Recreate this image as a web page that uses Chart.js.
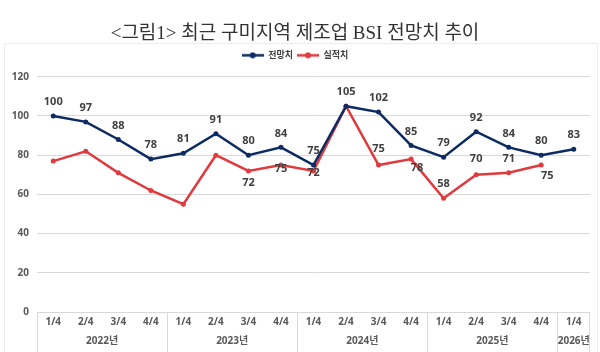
<!DOCTYPE html>
<html>
<head>
<meta charset="utf-8">
<script src="https://cdn.jsdelivr.net/npm/chart.js@4/dist/chart.umd.min.js"></script>
<style>
  body { margin: 0; background: #fff; }
  #wrap { position: relative; width: 600px; height: 352px; }
  #frame { position: absolute; left: 4px; top: 43px; width: 592px; height: 320px;
           border-left: 1px solid #ececec; border-top: 1px solid #ececec; border-right: 1px solid #ececec; }
  canvas { position: absolute; left: 0; top: 0; }
</style>
</head>
<body>
<div id="wrap">
  <div id="frame"></div>
  <canvas id="bsiChart" width="600" height="352"></canvas>
</div>
<script>

// quarters on the x axis, years under each group
const quarters = ['1/4','2/4','3/4','4/4','1/4','2/4','3/4','4/4','1/4','2/4','3/4','4/4','1/4','2/4','3/4','4/4','1/4']
const years = ['2022년','2023년','2024년','2025년','2026년']
const yearSizes = [4, 4, 4, 4, 1]

const forecast = [100, 97, 88, 78, 81, 91, 80, 84, 75, 105, 102, 85, 79, 92, 84, 80, 83]
const actual = [77, 82, 71, 62, 55, 80, 72, 75, 72, 105, 75, 78, 58, 70, 71, 75, null]

const yTicks = [0, 20, 40, 60, 80, 100, 120]

var navy = '#0d2b63'
var red = '#e03a3e'
var labelFont = "'Noto Sans', 'Noto Sans CJK KR', sans-serif"

// label offsets [dx, dy] per point, null = no label
const forecastLabelPos = forecast.map(() => [0, -14])
const actualLabelPos = [null, null, null, null, null, null, [0, 12], [0, 4], [0, 2], null,
                        [0, -16], [6, 9], [0, -14], [0, -16], [0, -14], [6, 11], null]

function legendMark(color) {
    const c = document.createElement('canvas')
    c.width = 22
    c.height = 7
    const g = c.getContext('2d')
    g.strokeStyle = color
    g.lineWidth = 2.5
    g.beginPath()
    g.moveTo(0, 3.5)
    g.lineTo(22, 3.5)
    g.stroke()
    g.fillStyle = color
    g.beginPath()
    g.arc(11, 3.5, 3, 0, Math.PI * 2)
    g.fill()
    return c
}

const dataLabels = {
    id: 'dataLabels',
    afterDatasetsDraw(chart) {
        const ctx = chart.ctx
        const posList = [forecastLabelPos, actualLabelPos]
        ctx.save()
        ctx.font = `bold 11px ${labelFont}`
        ctx.fillStyle = '#404040'
        ctx.textAlign = 'center'
        ctx.textBaseline = 'middle'
        chart.data.datasets.forEach((ds, d) => {
            const meta = chart.getDatasetMeta(d)
            meta.data.forEach((pt, i) => {
                const pos = posList[d][i]
                if (!pos || ds.data[i] == null) return
                ctx.fillText(ds.data[i], pt.x + pos[0], pt.y + pos[1])
            })
        })
        ctx.restore()
    }
}

const yearAxis = {
    id: 'yearAxis',
    afterDraw(chart) {
        const ctx = chart.ctx
        const xs = chart.scales.x
        const half = (xs.getPixelForValue(1) - xs.getPixelForValue(0)) / 2
        const top = chart.chartArea.bottom
        ctx.save()
        ctx.strokeStyle = '#d9d9d9'
        ctx.lineWidth = 1
        ctx.font = `bold 10px ${labelFont}`
        ctx.fillStyle = '#595959'
        ctx.textAlign = 'center'
        ctx.textBaseline = 'middle'
        let start = 0
        years.forEach((yr, k) => {
            const end = start + yearSizes[k] - 1
            const left = Math.round(xs.getPixelForValue(start) - half) + 0.5
            ctx.beginPath()
            ctx.moveTo(left, top)
            ctx.lineTo(left, chart.height)
            ctx.stroke()
            const cx = (xs.getPixelForValue(start) + xs.getPixelForValue(end)) / 2
            ctx.fillText(yr, cx, 341)
            start = end + 1
        })
        const right = Math.round(xs.getPixelForValue(start - 1) + half) - 0.5
        ctx.beginPath()
        ctx.moveTo(right, top)
        ctx.lineTo(right, chart.height)
        ctx.stroke()
        ctx.restore()
    }
}

const legendHeight = {
    id: 'legendHeight',
    beforeInit(chart) {
        const fit = chart.legend.fit
        chart.legend.fit = function () {
            fit.bind(chart.legend)()
            this.height = 30
        }
    }
}

new Chart(document.getElementById('bsiChart'), {
    type: 'line',
    data: {
        labels: quarters,
        datasets: [
            {
                label: '전망치',
                data: forecast,
                borderColor: navy,
                backgroundColor: navy,
                borderWidth: 2.5,
                pointRadius: 2.5,
                pointBorderWidth: 0,
                pointStyle: 'circle',
                tension: 0
            },
            {
                label: '실적치',
                data: actual,
                borderColor: red,
                backgroundColor: red,
                borderWidth: 2.5,
                pointRadius: 2.5,
                pointBorderWidth: 0,
                pointStyle: 'circle',
                tension: 0
            }
        ]
    },
    options: {
        responsive: false,
        animation: false,
        layout: { padding: { left: 0, right: 10, top: 0, bottom: 0 } },
        plugins: {
            title: {
                display: true,
                text: '<그림1> 최근 구미지역 제조업 BSI 전망치 추이',
                font: { family: "'Liberation Serif', 'Noto Sans CJK KR', serif", size: 19, weight: 'normal' },
                color: '#333333',
                padding: { top: 23, bottom: 1 }
            },
            legend: {
                display: true,
                labels: {
                    usePointStyle: true,
                    pointStyleWidth: 22,
                    padding: 4,
                    font: { family: labelFont, size: 9, weight: 'bold' },
                    color: '#404040',
                    generateLabels(chart) {
                        return chart.data.datasets.map((ds, i) => ({
                            text: ds.label,
                            pointStyle: legendMark(ds.borderColor),
                            fillStyle: ds.borderColor,
                            strokeStyle: ds.borderColor,
                            lineWidth: 0,
                            fontColor: '#404040',
                            datasetIndex: i
                        }))
                    }
                }
            },
            tooltip: { enabled: false }
        },
        scales: {
            x: {
                offset: true,
                grid: { display: false, drawTicks: false },
                border: { display: false },
                ticks: {
                    padding: 4,
                    maxRotation: 0,
                    autoSkip: false,
                    color: '#595959',
                    font: { family: labelFont, size: 10, weight: 'bold' }
                },
                afterFit(scale) { scale.height = 40 }
            },
            y: {
                min: 0,
                max: 120,
                afterBuildTicks(scale) { scale.ticks = yTicks.map(v => ({ value: v })) },
                grid: { color: '#d9d9d9', lineWidth: 1, drawTicks: false },
                border: { display: false },
                ticks: {
                    padding: 8,
                    color: '#595959',
                    font: { family: labelFont, size: 10, weight: 'bold' }
                },
                afterFit(scale) { scale.width = 37 }
            }
        }
    },
    plugins: [legendHeight, dataLabels, yearAxis]
})
</script>
</body>
</html>
